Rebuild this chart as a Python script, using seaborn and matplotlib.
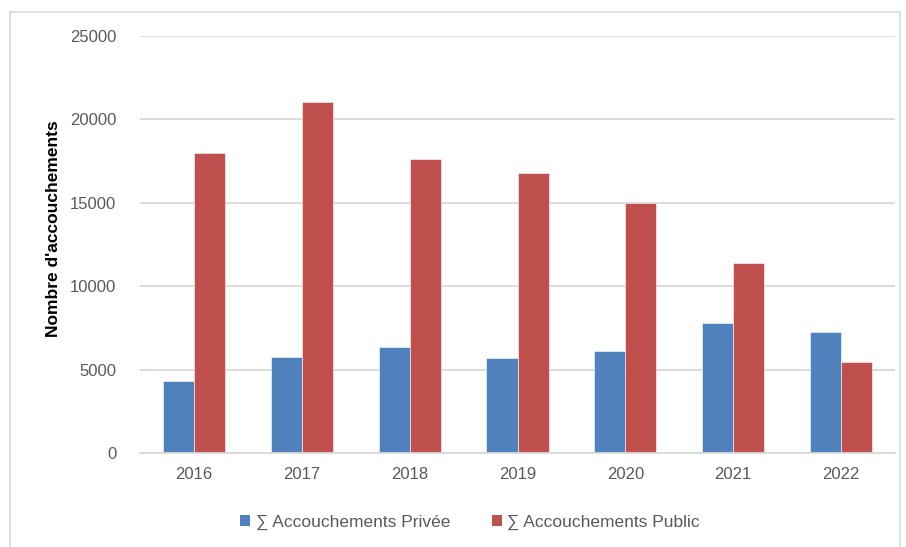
import pandas as pd
import numpy as np
import matplotlib
matplotlib.use("Agg")
import matplotlib.pyplot as plt
import seaborn as sns
from matplotlib.patches import Rectangle, Patch

years = ["2016", "2017", "2018", "2019", "2020", "2021", "2022"]
privee = [4300, 5740, 6370, 5680, 6120, 7780, 7250]
public = [17970, 21030, 17630, 16790, 14990, 11410, 5470]
series = ["∑ Accouchements Privée", "∑ Accouchements Public"]

df = pd.DataFrame({
    "Année": years * 2,
    "Valeur": privee + public,
    "Serie": [series[0]] * len(years) + [series[1]] * len(years),
})

sns.set_theme(style="white")
plt.rcParams["font.family"] = ["Liberation Sans", "DejaVu Sans"]

colors = {series[0]: "#4F81BD", series[1]: "#C0504D"}

fig = plt.figure(figsize=(9.06, 5.47), dpi=100)
ax = fig.add_axes([140 / 906, 1 - 453 / 547, 755 / 906, 417 / 547])

sns.barplot(data=df, x="Année", y="Valeur", hue="Serie", palette=colors,
            width=0.575, ax=ax, legend=False, saturation=1,
            edgecolor="white", linewidth=0.4)

ax.set_ylim(0, 25000)
ax.set_yticks(range(0, 25001, 5000))
ax.yaxis.grid(True, color="#D9D9D9", linewidth=1.3)
ax.set_axisbelow(True)
for s in ["top", "right", "left"]:
    ax.spines[s].set_visible(False)
ax.spines["bottom"].set_color("#D9D9D9")
ax.spines["bottom"].set_linewidth(1.3)
ax.tick_params(axis="both", length=0, labelsize=12, colors="#595959")
ax.tick_params(axis="y", pad=17)
ax.tick_params(axis="x", pad=10)
ax.set_xlabel("")
ax.set_ylabel("Nombre d'accouchements", fontsize=12.5, fontweight="bold",
              color="black")
ax.yaxis.set_label_coords(-0.105, 0.538)

handles = [Patch(facecolor=colors[s], edgecolor="none") for s in series]
fig.legend(handles, series, loc="center", bbox_to_anchor=(470 / 906, 1 - 522 / 547),
           ncol=2, frameon=False, fontsize=12.5, handlelength=0.6,
           handleheight=0.6, handletextpad=0.3, columnspacing=2.4,
           labelcolor="#595959")

fig.patches.append(Rectangle((10 / 906, -0.01), 890 / 906, 1 - 12 / 547 + 0.01,
                             transform=fig.transFigure, fill=False,
                             edgecolor="#D9D9D9", linewidth=1.2))

fig.savefig("out.png", dpi=100)
